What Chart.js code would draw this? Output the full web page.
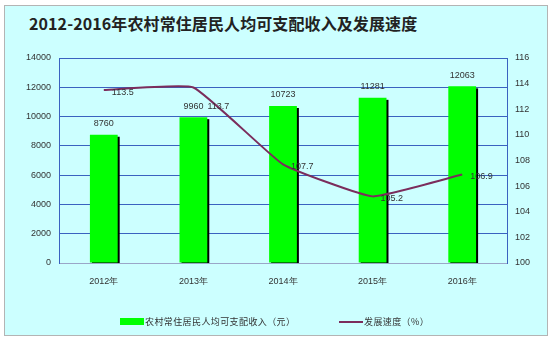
<!DOCTYPE html>
<html>
<head>
<meta charset="utf-8">
<script src="https://cdn.jsdelivr.net/npm/chart.js@4/dist/chart.umd.min.js"></script>
<style>
  html,body{margin:0;padding:0;background:#fff;}
  #wrap{position:relative;width:551px;height:342px;overflow:hidden;}
  #frame{position:absolute;left:4px;top:5px;width:542px;height:329px;border:1px solid #b4b4b4;background:#ccffff;}
  #title{position:absolute;left:29px;top:13px;font:bold 16px "Noto Sans CJK SC",sans-serif;color:#222;white-space:nowrap;line-height:20px;letter-spacing:0.1px;}
  #chart{position:absolute;left:0;top:0;}
  .leg{position:absolute;top:315px;font:9px "Noto Sans CJK SC",sans-serif;color:#333;letter-spacing:0.4px;line-height:14px;white-space:nowrap;}
  .sw{position:absolute;}
</style>
</head>
<body>
<div id="wrap">
  <div id="frame"></div>
  <div id="title">2012-2016年农村常住居民人均可支配收入及发展速度</div>
  <canvas id="chart" width="551" height="342"></canvas>
  <div class="sw" style="left:120px;top:318px;width:24px;height:7px;background:#00ff00;"></div>
  <div class="leg" style="left:145px;">农村常住居民人均可支配收入（元）</div>
  <div class="sw" style="left:339px;top:321px;width:24px;height:2px;background:#7b2d5c;"></div>
  <div class="leg" style="left:364px;">发展速度（%）</div>
</div>
<script>
const years = ['2012年','2013年','2014年','2015年','2016年'];
const income = [8760, 9960, 10723, 11281, 12063];
const growth = [113.5, 113.7, 107.7, 105.2, 106.9];
const growthText = ['113.5','113.7','107.7','105.2','106.9'];

const tickFont = {family:'"Liberation Sans", sans-serif', size:9};

// black shadow behind each bar
const barShadow = {
  id:'barShadow',
  beforeDatasetsDraw(chart){
    const ctx = chart.ctx;
    const meta = chart.getDatasetMeta(0);
    const bottom = chart.scales.y.bottom;
    ctx.save();
    ctx.fillStyle = '#000';
    meta.data.forEach(b=>{
      const w = b.width;
      ctx.fillRect(b.x - w/2 + 2, b.y + 2, w, bottom - b.y - 2);
    });
    ctx.restore();
  }
};

// value labels
const valueLabels = {
  id:'valueLabels',
  afterDatasetsDraw(chart){
    const ctx = chart.ctx;
    ctx.save();
    ctx.font = '9px "Liberation Sans", sans-serif';
    ctx.fillStyle = '#333';
    ctx.textBaseline = 'middle';
    ctx.textAlign = 'center';
    chart.getDatasetMeta(0).data.forEach((b,i)=>{
      ctx.fillText(String(income[i]), b.x, b.y - 11);
    });
    ctx.textAlign = 'left';
    chart.getDatasetMeta(1).data.forEach((p,i)=>{
      // 2013 label sits lower, next to the bar label
      const dx = i===1 ? 14 : 8;
      const dy = i===1 ? 19 : 2;
      ctx.fillText(growthText[i], p.x + dx, p.y + dy);
    });
    ctx.restore();
  }
};

new Chart(document.getElementById('chart'), {
  data: {
    labels: years,
    datasets: [{
      type:'bar',
      label:'农村常住居民人均可支配收入（元）',
      data: income,
      backgroundColor:'#00ff00',
      barPercentage:0.31,
      categoryPercentage:1,
      yAxisID:'y',
      order:1
    },{
      type:'line',
      label:'发展速度（%）',
      data: growth,
      borderColor:'#7b2d5c',
      borderWidth:2,
      pointRadius:0,
      tension:0.12,
      yAxisID:'y1',
      order:0
    }]
  },
  options: {
    responsive:false,
    animation:false,
    layout:{padding:{top:58, bottom:49, left:0, right:0}},
    plugins:{legend:{display:false}, tooltip:{enabled:false}},
    scales:{
      x:{
        grid:{display:false, drawTicks:false},
        border:{color:'#9aa6c8'},
        ticks:{font:tickFont, color:'#333', padding:13},
        afterFit:(s)=>{ s.height = 30; }
      },
      y:{
        position:'left',
        min:0, max:14000,
        ticks:{stepSize:2000, font:tickFont, color:'#333', padding:8, callback:(v)=>String(v)},
        grid:{color:'#3a62c0', drawTicks:false},
        border:{color:'#3a62c0'},
        afterFit:(s)=>{ s.width = 59; }
      },
      y1:{
        position:'right',
        min:100, max:116,
        ticks:{stepSize:2, font:tickFont, color:'#333', padding:8, callback:(v)=>String(v)},
        grid:{display:false, drawTicks:false},
        border:{color:'#3a62c0'},
        afterFit:(s)=>{ s.width = 44; }
      }
    }
  },
  plugins:[barShadow, valueLabels]
});
</script>
</body>
</html>
